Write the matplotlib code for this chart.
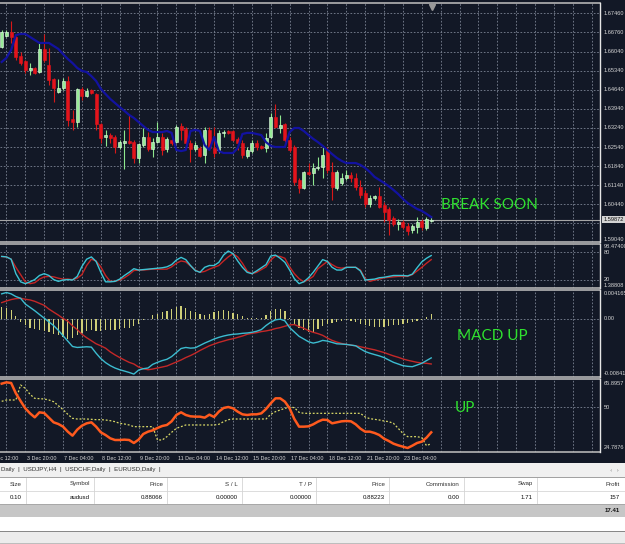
import matplotlib.pyplot as plt
import matplotlib.transforms as mtransforms
import numpy as np

# AUDUSD-style H4 candles, oldest first
opens = [1.6622, 1.6663, 1.6677, 1.6659, 1.6589, 1.6571, 1.6537, 1.6545, 1.6530, 1.6615,
         1.6556, 1.6504, 1.6456, 1.6471, 1.6497, 1.6357, 1.6346, 1.6468, 1.6442, 1.6464,
         1.6449, 1.6339, 1.6291, 1.6298, 1.6291, 1.6254, 1.6269, 1.6276, 1.6272, 1.6214,
         1.6261, 1.6291, 1.6247, 1.6272, 1.6291, 1.6247, 1.6280, 1.6272, 1.6331, 1.6320,
         1.6269, 1.6247, 1.6250, 1.6225, 1.6317, 1.6250, 1.6243, 1.6306, 1.6313, 1.6313,
         1.6284, 1.6269, 1.6221, 1.6239, 1.6269, 1.6258, 1.6250, 1.6291, 1.6364, 1.6324,
         1.6339, 1.6280, 1.6254, 1.6133, 1.6103, 1.6162, 1.6158, 1.6177, 1.6180, 1.6243,
         1.6162, 1.6103, 1.6122, 1.6140, 1.6151, 1.6140, 1.6107, 1.6085, 1.6044, 1.6066,
         1.6074, 1.6041, 1.6026, 1.5993, 1.5971, 1.5978, 1.5963, 1.5949, 1.5960, 1.5982,
         1.5956, 1.5980]
highs = [1.6685, 1.6685, 1.6718, 1.6663, 1.6604, 1.6574, 1.6563, 1.6548, 1.6637, 1.6670,
         1.6618, 1.6508, 1.6504, 1.6508, 1.6515, 1.6390, 1.6471, 1.6475, 1.6471, 1.6468,
         1.6453, 1.6342, 1.6317, 1.6306, 1.6298, 1.6280, 1.6317, 1.6372, 1.6280, 1.6269,
         1.6324, 1.6309, 1.6287, 1.6346, 1.6306, 1.6291, 1.6284, 1.6335, 1.6342, 1.6328,
         1.6280, 1.6272, 1.6258, 1.6328, 1.6328, 1.6328, 1.6317, 1.6317, 1.6317, 1.6317,
         1.6291, 1.6280, 1.6254, 1.6280, 1.6280, 1.6261, 1.6306, 1.6379, 1.6412, 1.6372,
         1.6342, 1.6291, 1.6261, 1.6140, 1.6166, 1.6195, 1.6195, 1.6217, 1.6254, 1.6254,
         1.6199, 1.6169, 1.6158, 1.6169, 1.6162, 1.6158, 1.6133, 1.6096, 1.6077, 1.6077,
         1.6107, 1.6052, 1.6033, 1.6000, 1.5989, 1.5985, 1.5974, 1.5971, 1.5996, 1.5989,
         1.5996, 1.6000]
lows = [1.6618, 1.6659, 1.6637, 1.6574, 1.6556, 1.6526, 1.6519, 1.6523, 1.6526, 1.6567,
        1.6482, 1.6420, 1.6453, 1.6464, 1.6331, 1.6317, 1.6328, 1.6427, 1.6438, 1.6449,
        1.6317, 1.6269, 1.6258, 1.6269, 1.6232, 1.6247, 1.6173, 1.6265, 1.6195, 1.6195,
        1.6254, 1.6239, 1.6217, 1.6269, 1.6225, 1.6236, 1.6261, 1.6269, 1.6280, 1.6261,
        1.6199, 1.6239, 1.6217, 1.6195, 1.6243, 1.6217, 1.6232, 1.6291, 1.6302, 1.6276,
        1.6243, 1.6214, 1.6214, 1.6232, 1.6243, 1.6247, 1.6236, 1.6287, 1.6324, 1.6306,
        1.6272, 1.6236, 1.6114, 1.6085, 1.6100, 1.6151, 1.6114, 1.6169, 1.6140, 1.6158,
        1.6059, 1.6096, 1.6114, 1.6133, 1.6125, 1.6096, 1.6066, 1.6033, 1.6033, 1.6059,
        1.6030, 1.5978, 1.5930, 1.5963, 1.5949, 1.5952, 1.5930, 1.5938, 1.5938, 1.5949,
        1.5949, 1.5978]
closes = [1.6677, 1.6677, 1.6659, 1.6585, 1.6563, 1.6537, 1.6545, 1.6526, 1.6615, 1.6574,
          1.6501, 1.6471, 1.6471, 1.6497, 1.6353, 1.6346, 1.6468, 1.6442, 1.6460, 1.6453,
          1.6339, 1.6287, 1.6298, 1.6287, 1.6254, 1.6272, 1.6276, 1.6269, 1.6214, 1.6265,
          1.6291, 1.6247, 1.6272, 1.6291, 1.6243, 1.6284, 1.6269, 1.6328, 1.6317, 1.6269,
          1.6247, 1.6261, 1.6221, 1.6317, 1.6250, 1.6232, 1.6306, 1.6309, 1.6306, 1.6280,
          1.6269, 1.6225, 1.6243, 1.6269, 1.6254, 1.6250, 1.6287, 1.6364, 1.6328, 1.6335,
          1.6280, 1.6243, 1.6125, 1.6103, 1.6162, 1.6155, 1.6177, 1.6180, 1.6225, 1.6169,
          1.6107, 1.6162, 1.6140, 1.6151, 1.6140, 1.6107, 1.6077, 1.6044, 1.6066, 1.6074,
          1.6033, 1.6015, 1.5985, 1.5971, 1.5978, 1.5960, 1.5945, 1.5963, 1.5978, 1.5960,
          1.5989, 1.5987]
ma_line = [1.6567, 1.6582, 1.6611, 1.6666, 1.6670, 1.6670, 1.6659, 1.6648, 1.6637, 1.6637,
           1.6637, 1.6626, 1.6615, 1.6596, 1.6578, 1.6563, 1.6545, 1.6534, 1.6530, 1.6515,
           1.6497, 1.6468, 1.6449, 1.6431, 1.6416, 1.6401, 1.6387, 1.6372, 1.6361, 1.6346,
           1.6331, 1.6317, 1.6309, 1.6309, 1.6309, 1.6313, 1.6306, 1.6243, 1.6239, 1.6243,
           1.6313, 1.6317, 1.6313, 1.6261, 1.6243, 1.6291, 1.6239, 1.6232, 1.6232, 1.6232,
           1.6250, 1.6302, 1.6306, 1.6306, 1.6302, 1.6298, 1.6272, 1.6258, 1.6254, 1.6254,
           1.6254, 1.6309, 1.6324, 1.6324, 1.6313, 1.6298, 1.6284, 1.6272, 1.6258, 1.6243,
           1.6228, 1.6214, 1.6203, 1.6195, 1.6195, 1.6195, 1.6188, 1.6177, 1.6162, 1.6144,
           1.6133, 1.6122, 1.6110, 1.6096, 1.6081, 1.6063, 1.6048, 1.6037, 1.6026, 1.6019,
           1.6008, 1.5996]
bid = 1.59872

stoch_main = [71, 70, 65, 33, 15, 11, 15, 20, 29, 33, 29, 20, 16, 19, 20, 19, 27, 49, 65, 70,
              60, 36, 15, 15, 16, 21, 29, 36, 44, 41, 42, 43, 44, 45, 46, 48, 53, 63, 69, 64,
              51, 40, 36, 47, 51, 51, 58, 74, 83, 77, 61, 47, 36, 33, 39, 46, 53, 72, 74, 67,
              58, 41, 22, 11, 15, 24, 36, 50, 64, 60, 47, 41, 41, 47, 47, 47, 39, 19, 20, 21,
              24, 25, 27, 29, 29, 29, 28, 32, 46, 59, 67, 73]
stoch_signal = [71, 70, 65, 47, 31, 15, 11, 13, 21, 26, 27, 26, 23, 21, 21, 20, 23, 31, 51, 65,
                61, 48, 29, 16, 16, 19, 24, 31, 40, 41, 41, 42, 43, 43, 43, 43, 48, 56, 61, 59,
                50, 41, 36, 38, 43, 47, 51, 61, 70, 77, 70, 56, 39, 33, 36, 42, 48, 63, 72, 71,
                67, 48, 33, 22, 15, 20, 27, 44, 52, 60, 53, 47, 45, 47, 47, 47, 41, 22, 16, 19,
                21, 24, 25, 26, 27, 27, 27, 31, 39, 47, 56, 64]

macd_main = [0.00361, 0.00380, 0.00361, 0.00322, 0.00297, 0.00214, 0.00166, 0.00117, 0.00063, 0.00010,
             -0.00044, -0.00097, -0.00166, -0.00244, -0.00322, -0.00400, -0.00414, -0.00409, -0.00404, -0.00409,
             -0.00497, -0.00575, -0.00633, -0.00677, -0.00711, -0.00736, -0.00755, -0.00775, -0.00799, -0.00741,
             -0.00721, -0.00711, -0.00658, -0.00629, -0.00604, -0.00585, -0.00546, -0.00487, -0.00429, -0.00414,
             -0.00424, -0.00419, -0.00385, -0.00351, -0.00322, -0.00292, -0.00268, -0.00249, -0.00234, -0.00224,
             -0.00219, -0.00210, -0.00205, -0.00195, -0.00180, -0.00156, -0.00097, -0.00049, -0.00015, -0.00005,
             -0.00029, -0.00127, -0.00190, -0.00253, -0.00292, -0.00331, -0.00351, -0.00336, -0.00312, -0.00322,
             -0.00341, -0.00361, -0.00365, -0.00370, -0.00380, -0.00390, -0.00434, -0.00473, -0.00497, -0.00517,
             -0.00536, -0.00560, -0.00595, -0.00629, -0.00653, -0.00677, -0.00687, -0.00692, -0.00668, -0.00643,
             -0.00604, -0.00565]
macd_signal = [0.00234, 0.00258, 0.00278, 0.00292, 0.00297, 0.00283, 0.00273, 0.00253, 0.00224, 0.00195,
               0.00141, 0.00097, 0.00054, 0.00005, -0.00034, -0.00102, -0.00156, -0.00224, -0.00273, -0.00317,
               -0.00361, -0.00390, -0.00424, -0.00478, -0.00521, -0.00560, -0.00595, -0.00629, -0.00653, -0.00697,
               -0.00721, -0.00736, -0.00726, -0.00711, -0.00697, -0.00682, -0.00653, -0.00624, -0.00595, -0.00560,
               -0.00531, -0.00497, -0.00458, -0.00424, -0.00390, -0.00365, -0.00341, -0.00322, -0.00302, -0.00288,
               -0.00268, -0.00249, -0.00224, -0.00210, -0.00200, -0.00185, -0.00175, -0.00161, -0.00141, -0.00127,
               -0.00107, -0.00088, -0.00083, -0.00112, -0.00136, -0.00171, -0.00195, -0.00214, -0.00239, -0.00278,
               -0.00312, -0.00336, -0.00356, -0.00370, -0.00380, -0.00390, -0.00404, -0.00419, -0.00434, -0.00448,
               -0.00468, -0.00487, -0.00512, -0.00536, -0.00556, -0.00580, -0.00599, -0.00614, -0.00629, -0.00638,
               -0.00643, -0.00653]
macd_hist = [0.00175, 0.00151, 0.00127, 0.00039, -0.00044, -0.00093, -0.00127, -0.00141, -0.00156, -0.00175,
             -0.00195, -0.00224, -0.00239, -0.00263, -0.00288, -0.00273, -0.00234, -0.00205, -0.00180, -0.00166,
             -0.00175, -0.00175, -0.00166, -0.00166, -0.00156, -0.00146, -0.00136, -0.00127, -0.00107, -0.00068,
             -0.00019, 0.00000, 0.00049, 0.00068, 0.00097, 0.00117, 0.00146, 0.00175, 0.00185, 0.00151,
             0.00117, 0.00097, 0.00068, 0.00049, 0.00068, 0.00097, 0.00112, 0.00127, 0.00117, 0.00088,
             0.00068, 0.00039, 0.00019, 0.00010, 0.00010, 0.00019, 0.00049, 0.00107, 0.00136, 0.00136,
             0.00107, 0.00019, -0.00068, -0.00127, -0.00166, -0.00190, -0.00195, -0.00141, -0.00107, -0.00078,
             -0.00058, -0.00039, -0.00029, -0.00019, -0.00029, -0.00049, -0.00068, -0.00088, -0.00102, -0.00112,
             -0.00117, -0.00112, -0.00102, -0.00093, -0.00083, -0.00073, -0.00063, -0.00049, -0.00029, -0.00010,
             0.00029, 0.00068]

osc_fast = [63.27, 64.02, 63.65, 57.83, 53.51, 49.38, 46.56, 44.31, 47.13, 46.75,
            44.12, 41.50, 40.56, 39.06, 36.24, 33.99, 37.37, 39.62, 40.93, 41.50,
            39.06, 35.87, 34.36, 32.49, 31.55, 31.55, 31.74, 31.55, 29.86, 31.74,
            34.93, 36.24, 36.99, 38.31, 39.43, 40.00, 42.06, 45.63, 47.13, 45.63,
            44.88, 44.69, 44.69, 44.12, 45.81, 44.50, 47.50, 49.57, 50.13, 49.38,
            47.50, 46.00, 45.63, 46.00, 46.00, 46.56, 49.00, 52.20, 55.01, 55.01,
            53.13, 49.38, 43.37, 39.06, 39.06, 39.24, 40.37, 41.87, 43.00, 42.81,
            40.93, 41.50, 42.06, 42.25, 42.06, 40.37, 37.93, 36.24, 36.24, 35.49,
            34.36, 32.30, 30.99, 29.48, 28.55, 27.79, 27.04, 28.36, 29.86, 30.61,
            32.86, 35.87]
osc_slow = [53.32, 54.07, 54.07, 54.07, 62.52, 60.64, 57.26, 55.01, 54.82, 54.63,
            54.07, 53.13, 50.88, 48.63, 46.00, 43.75, 43.37, 43.37, 43.37, 43.19,
            43.00, 43.00, 42.81, 42.43, 41.87, 40.93, 40.56, 40.00, 39.06, 39.06,
            39.06, 39.06, 39.06, 31.55, 31.55, 33.43, 35.87, 38.12, 39.06, 40.00,
            40.00, 40.00, 40.00, 40.00, 40.00, 40.00, 40.37, 41.87, 43.00, 43.37,
            43.37, 43.37, 43.37, 43.37, 43.37, 43.37, 43.37, 46.00, 47.50, 48.44,
            49.38, 50.13, 49.76, 47.13, 46.56, 46.56, 46.56, 46.56, 46.56, 46.56,
            46.56, 46.56, 46.56, 46.56, 46.56, 46.56, 46.56, 44.50, 43.56, 43.19,
            42.81, 42.25, 41.87, 40.93, 38.12, 35.30, 33.43, 33.43, 33.43, 32.86,
            28.36, 29.48]

price_labels = ["1.67460", "1.66760", "1.66040", "1.65340", "1.64640", "1.63940", "1.63240",
                "1.62540", "1.61840", "1.61140", "1.60440", "1.59040"]
time_labels = ["2 Dec 12:00", "3 Dec 20:00", "7 Dec 04:00", "8 Dec 12:00", "9 Dec 20:00",
               "11 Dec 04:00", "14 Dec 12:00", "15 Dec 20:00", "17 Dec 04:00", "18 Dec 12:00",
               "21 Dec 20:00", "23 Dec 04:00"]
tabs = ["Daily", "USDJPY,H4", "USDCHF,Daily", "EURUSD,Daily"]
col_names = ["Size", "Symbol", "Price", "S / L", "T / P", "Price", "Commission", "Swap", "Profit"]
row_values = ["0.10", "audusd", "0.88066", "0.00000", "0.00000", "0.88223", "0.00", "1.71", "157"]
total_profit = "17.41"

BG = '#121826'
GRID = '#7c8494'
LBL = '#d6d6d6'
SMALL = 'Liberation Sans'
W, H = 625.0, 544.0
STEP = 4.72  # px per bar

fig = plt.figure(figsize=(6.25, 5.44), dpi=100)
fig.patch.set_facecolor(BG)

x = np.arange(len(opens))


def panel(top, bottom):
    ax = fig.add_axes([0, 1 - bottom / H, 600 / W, (bottom - top) / H])
    ax.set_facecolor(BG)
    ax.set_xlim(-1.7 / STEP, (600 - 1.7) / STEP)
    for s in ax.spines.values():
        s.set_visible(False)
    ax.set_xticks([])
    ax.set_yticks([])
    for gx in np.arange(1, 127, 4):
        ax.axvline(gx, color=GRID, lw=0.6, ls=(0, (2, 2)), zorder=0)
    ax.plot([0, 1], [1, 1], transform=ax.transAxes, color='#b4b4b4', lw=1.2, clip_on=False)
    ax.plot([0, 1], [0, 0], transform=ax.transAxes, color='#b4b4b4', lw=1.2, clip_on=False)
    ax.plot([1, 1], [0, 1], transform=ax.transAxes, color='#e6e6e6', lw=1.0, clip_on=False)
    return ax


def rlabel(ax, val, text, **kw):
    tr = mtransforms.blended_transform_factory(ax.transAxes, ax.transData)
    return ax.text(1.006, val, text, transform=tr, fontsize=4.1, color=LBL, family=SMALL,
                   ha='left', va='center', clip_on=False, **kw)


# ---- main price panel
ax = panel(3, 242)
ax.set_ylim(1.59044, 1.67840)
levels = [float(t) for t in price_labels] + [1.5974]
for lv in levels:
    ax.axhline(lv, color=GRID, lw=0.6, ls=(0, (2, 2)), zorder=0)
for t in price_labels[:-1]:
    rlabel(ax, float(t), t)
rlabel(ax, 1.5912, price_labels[-1])

o = np.array(opens)
c = np.array(closes)
hi = np.array(highs)
lo = np.array(lows)
up = c >= o
body_lo = np.minimum(o, c)
body_h = np.maximum(np.abs(c - o), 0.00008)
ax.vlines(x[up], lo[up], hi[up], color='#8fe88f', lw=0.8, zorder=2)
ax.vlines(x[~up], lo[~up], hi[~up], color='#d81818', lw=0.8, zorder=2)
ax.bar(x[up], body_h[up], bottom=body_lo[up], width=0.64, color='#98ec98',
       edgecolor='#eaffea', linewidth=0.4, zorder=3)
ax.bar(x[~up], body_h[~up], bottom=body_lo[~up], width=0.64, color='#e3141c',
       edgecolor='#e3141c', linewidth=0.4, zorder=3)
ax.plot(x, ma_line, color='#1212a0', lw=1.6, zorder=4)
ax.axhline(bid, color='#a6a6a6', lw=0.8, zorder=1)
bl = rlabel(ax, bid, f"{bid:.5f}", bbox=dict(boxstyle='square,pad=0.2', fc='#d4d4d4', ec='none'))
bl.set_color('#101010')
ax.plot([91.2], [0.985], marker='v', ms=4, color='#9a9a9a',
        transform=mtransforms.blended_transform_factory(ax.transData, ax.transAxes), clip_on=False)
ax.text(93.1, 1.6041, "BREAK SOON", color='#2fe02f', fontsize=11, family='Lato',
        ha='left', va='center')

# ---- stochastic panel
ax2 = panel(244, 288)
ax2.set_ylim(1.38808, 98.474)
for lv in (80, 20):
    ax2.axhline(lv, color=GRID, lw=0.6, ls=(0, (2, 2)), zorder=0)
ax2.plot(x, stoch_signal, color='#c42424', lw=1.0)
ax2.plot(x, stoch_main, color='#3cc4d4', lw=1.0)
rlabel(ax2, 92.0, "98.47400")
rlabel(ax2, 80, "80")
rlabel(ax2, 20, "20")
rlabel(ax2, 8.0, "1.38808")

# ---- MACD panel
ax3 = panel(290, 377)
ax3.set_ylim(-0.00841, 0.004165)
ax3.axhline(0, color=GRID, lw=0.6, ls=(0, (2, 2)), zorder=0)
ax3.bar(x, macd_hist, width=0.26, color='#cfcf78', zorder=2)
ax3.plot(x, macd_signal, color='#c42828', lw=1.0, zorder=3)
ax3.plot(x, macd_main, color='#3cbcd0', lw=1.0, zorder=3)
rlabel(ax3, 0.0036, "0.004165")
rlabel(ax3, 0, "0.00")
rlabel(ax3, -0.0079, "-0.00841")
ax3.text(96.5, -0.00253, "MACD UP", color='#2fe02f', fontsize=11, family='Lato',
         ha='left', va='center')

# ---- oscillator panel
ax4 = panel(379, 452)
ax4.set_ylim(24.7876, 65.8957)
ax4.axhline(50, color=GRID, lw=0.6, ls=(0, (2, 2)), zorder=0)
ax4.plot(x, osc_slow, color='#d8d866', lw=0.9, ls=(0, (1.5, 1.5)))
ax4.plot(x, osc_fast, color='#ff5a1e', lw=1.8)
rlabel(ax4, 63.5, "65.8957")
rlabel(ax4, 50, "50")
rlabel(ax4, 27.5, "24.7876")
ax4.text(96.0, 49.6, "UP", color='#2fe02f', fontsize=11, family='Lato', ha='left', va='center')

trx = mtransforms.blended_transform_factory(ax4.transData, ax4.transAxes)
for k, t in enumerate(time_labels):
    ax4.text(-3 + 8 * k + 0.3, -0.085, t, transform=trx, fontsize=3.9, color=LBL,
             family=SMALL, ha='left', va='center', clip_on=False)

# ---- terminal window
axt = fig.add_axes([0, 0, 1, 81 / H])
axt.set_xlim(0, W)
axt.set_ylim(H, 463)
axt.axis('off')
axt.add_patch(plt.Rectangle((0, 463), W, 14, fc='#f0f0f0', ec='none'))
axt.add_patch(plt.Rectangle((0, 477), W, 27, fc='#ffffff', ec='none'))
axt.add_patch(plt.Rectangle((0, 504), W, 13, fc='#c6c6c6', ec='none'))
axt.add_patch(plt.Rectangle((0, 517), W, 14, fc='#ffffff', ec='none'))
axt.add_patch(plt.Rectangle((0, 532), W, 12, fc='#ececec', ec='none'))
for yy, col in ((477, '#a0a0a0'), (491, '#dcdcdc'), (504, '#a8a8a8'), (531, '#8c8c8c'), (543, '#bcbcbc')):
    axt.plot([0, W], [yy, yy], color=col, lw=0.7)
axt.text(1, 470, "  |  ".join(tabs) + "  |", fontsize=4.4, family=SMALL, color='#303030',
         ha='left', va='center')
axt.text(614, 470, "\u2039  \u203a", fontsize=4.4, color='#808080', ha='center', va='center')
col_right = [22, 90, 163, 238, 312, 385, 460, 533, 620]
for k in range(len(col_names)):
    axt.text(col_right[k], 484, col_names[k], fontsize=4.4, family=SMALL, color='#303030',
             ha='right', va='center')
    axt.text(col_right[k], 497.5, row_values[k], fontsize=4.4, family=SMALL, color='#101010',
             ha='right', va='center')
    if k < len(col_names) - 1:
        axt.plot([col_right[k] + 4, col_right[k] + 4], [478, 503], color='#d4d4d4', lw=0.6)
axt.text(620, 510.5, total_profit, fontsize=4.4, family=SMALL, color='#101010',
         fontweight='bold', ha='right', va='center')

fig.savefig('out.png', dpi=100, facecolor=BG)
